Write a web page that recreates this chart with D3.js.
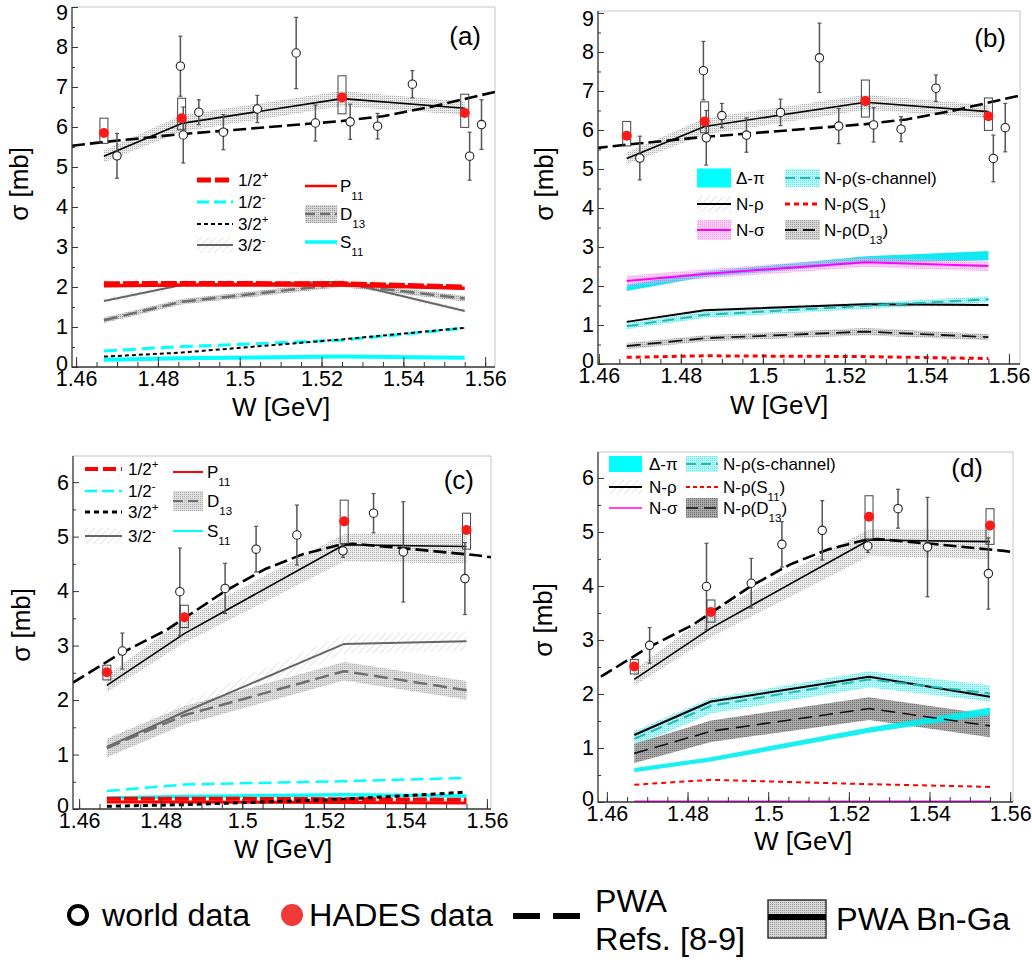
<!DOCTYPE html>
<html><head><meta charset="utf-8">
<script src="https://cdn.jsdelivr.net/npm/d3@7"></script>
<style>
body{margin:0;background:#fff}
svg{display:block}
text{font-family:"Liberation Sans",Arial,Helvetica,sans-serif;fill:#000}
</style>
</head><body>
<svg id="chart" width="1032" height="960"></svg>
<script>
// ---------------- DATA ----------------
const W_MODEL = [1.4668, 1.4858, 1.5250, 1.5550];
const X_TICKS = [1.46, 1.48, 1.50, 1.52, 1.54, 1.56];
const X_TICK_LABELS = ["1.46", "1.48", "1.5", "1.52", "1.54", "1.56"];
const Y_TICKS_AB = [0, 1, 2, 3, 4, 5, 6, 7, 8, 9];
const Y_TICKS_CD = [0, 1, 2, 3, 4, 5, 6];

// world data, panels (a),(b)
const worldW_ab = [1.4700, 1.4855, 1.4862, 1.4900, 1.4960, 1.5043, 1.5138, 1.5185, 1.5270, 1.5337, 1.5422, 1.5562, 1.5591];
const world_ab = [5.28, 7.52, 5.80, 6.37, 5.87, 6.45, 7.85, 6.10, 6.13, 6.02, 7.07, 5.27, 6.06];
const worldErr_ab = [0.56, 0.75, 0.70, 0.31, 0.44, 0.34, 0.89, 0.45, 0.44, 0.32, 0.34, 0.60, 0.62];
// HADES data, panels (a),(b)
const hades_ab = [5.85, 6.22, 6.74, 6.35];
const hadesSysLo_ab = [5.59, 5.93, 6.33, 5.99];
const hadesSysHi_ab = [6.22, 6.72, 7.28, 6.82];
// PWA Refs [8-9], panels (a),(b)
const pwaW_ab = [1.4590, 1.4655, 1.4855, 1.5050, 1.5250, 1.5350, 1.5466, 1.5625];
const pwa_ab = [5.53, 5.61, 5.82, 5.98, 6.15, 6.27, 6.50, 6.88];
// PWA Bn-Ga total, panels (a),(b)
const bnga_ab = [5.27, 6.09, 6.71, 6.47];
const bngaLo_ab = [5.12, 5.88, 6.52, 6.30];
const bngaHi_ab = [5.42, 6.30, 6.90, 6.64];

// panel (a) partial waves
const a_halfPlus = [2.08, 2.09, 2.08, 2.00];
const a_halfMinus = [0.40, 0.51, 0.67, 0.97];
const a_threeHalfPlus = [0.26, 0.36, 0.69, 0.98];
const a_threeHalfMinus = [1.65, 2.05, 2.13, 1.40];
const a_threeHalfMinusErr = [0.08, 0.08, 0.08, 0.08];
const a_P11 = [2.03, 2.05, 2.05, 1.97];
const a_D13 = [1.17, 1.63, 2.07, 1.71];
const a_D13Err = [0.07, 0.07, 0.07, 0.07];
const a_S11 = [0.18, 0.22, 0.26, 0.23];

// panel (b) channels
const b_deltaPi = [1.95, 2.30, 2.67, 2.78];
const b_deltaPiErr = [0.08, 0.07, 0.09, 0.12];
const b_Nsigma = [2.13, 2.31, 2.61, 2.51];
const b_NsigmaErr = [0.13, 0.12, 0.12, 0.13];
const b_Nrho = [1.08, 1.38, 1.53, 1.51];
const b_NrhoErr = [0.06, 0.06, 0.06, 0.06];
const b_NrhoS = [0.97, 1.26, 1.49, 1.66];
const b_NrhoSErr = [0.08, 0.08, 0.08, 0.08];
const b_NrhoS11 = [0.17, 0.21, 0.19, 0.14];
const b_NrhoD13 = [0.46, 0.66, 0.83, 0.69];
const b_NrhoD13Err = [0.08, 0.08, 0.09, 0.08];

// world data, panels (c),(d)
const worldW_cd = [1.4706, 1.4847, 1.4958, 1.5034, 1.5134, 1.5247, 1.5322, 1.5395, 1.5546];
const world_cd = [2.90, 3.99, 4.05, 4.77, 5.03, 4.74, 5.43, 4.72, 4.23];
const worldErr_cd = [0.33, 0.80, 0.46, 0.42, 0.55, 0.12, 0.36, 0.92, 0.66];
// HADES data, panels (c),(d)
const hades_cd = [2.51, 3.52, 5.28, 5.12];
const hadesSysLo_cd = [2.37, 3.33, 4.87, 4.77];
const hadesSysHi_cd = [2.64, 3.74, 5.67, 5.43];
// PWA Refs [8-9], panels (c),(d)
const pwaW_cd = [1.4585, 1.4700, 1.4813, 1.4958, 1.5055, 1.5150, 1.5235, 1.5270, 1.5405, 1.5585, 1.5610];
const pwa_cd = [2.32, 2.85, 3.28, 4.00, 4.40, 4.68, 4.84, 4.87, 4.78, 4.65, 4.62];
// PWA Bn-Ga total, panels (c),(d)
const bnga_cd = [2.27, 3.22, 4.85, 4.82];
const bngaLo_cd = [2.15, 3.05, 4.55, 4.50];
const bngaHi_cd = [2.45, 3.50, 5.05, 5.05];

// panel (c) partial waves
const c_halfPlus = [0.19, 0.19, 0.18, 0.17];
const c_halfMinus = [0.33, 0.45, 0.51, 0.57];
const c_threeHalfPlus = [0.05, 0.08, 0.18, 0.31];
const c_threeHalfMinus = [1.14, 1.78, 3.03, 3.08];
const c_threeHalfMinusErr = [0.18, 0.18, 0.18, 0.18];
const c_P11 = [0.13, 0.13, 0.12, 0.11];
const c_D13 = [1.12, 1.72, 2.53, 2.18];
const c_D13Err = [0.17, 0.17, 0.17, 0.17];
const c_S11 = [0.20, 0.23, 0.26, 0.24];

// panel (d) channels
const d_deltaPi = [0.59, 0.79, 1.33, 1.68];
const d_deltaPiErr = [0.04, 0.04, 0.05, 0.07];
const d_Nsigma = [0.01, 0.01, 0.01, 0.01];
const d_Nrho = [1.24, 1.86, 2.32, 1.95];
const d_NrhoErr = [0.10, 0.10, 0.10, 0.10];
const d_NrhoS = [1.17, 1.78, 2.27, 2.01];
const d_NrhoSErr = [0.14, 0.14, 0.15, 0.15];
const d_NrhoS11 = [0.32, 0.41, 0.33, 0.28];
const d_NrhoD13 = [0.90, 1.31, 1.73, 1.41];
const d_NrhoD13Err = [0.18, 0.20, 0.21, 0.21];

// ---------------- DRAWING ----------------
const svg = d3.select("#chart");
const defs = svg.append("defs");

function dotPattern(id, bg, dot, size) {
  const p = defs.append("pattern").attr("id", id).attr("width", size).attr("height", size)
    .attr("patternUnits", "userSpaceOnUse");
  p.append("rect").attr("width", size).attr("height", size).attr("fill", bg);
  p.append("rect").attr("width", 1).attr("height", 1).attr("fill", dot);
}
function hatchPattern(id, color, bg) {
  const p = defs.append("pattern").attr("id", id).attr("width", 5).attr("height", 5)
    .attr("patternUnits", "userSpaceOnUse").attr("patternTransform", "rotate(45)");
  if (bg) p.append("rect").attr("width", 5).attr("height", 5).attr("fill", bg);
  p.append("line").attr("x1", 0).attr("y1", 0).attr("x2", 0).attr("y2", 5)
    .attr("stroke", color).attr("stroke-width", 1.2);
}
dotPattern("bngaDots", "#ececec", "#b0b0b0", 2);
dotPattern("grayDots", "#d6d6d6", "#9a9a9a", 2);
dotPattern("darkDots", "#a8a8a8", "#707070", 2);
dotPattern("cyanDots", "#a6f6f6", "#40dede", 2);
dotPattern("pinkDots", "#f7b0ef", "#ee55e0", 2);
hatchPattern("hatch", "#d4d4d4", null);

function makePanel(id, box) {
  const x = d3.scaleLinear().domain(box.xdom).range([box.l, box.r]);
  const y = d3.scaleLinear().domain(box.ydom).range([box.b, box.t]);
  defs.append("clipPath").attr("id", "clip-" + id).append("rect")
    .attr("x", box.l).attr("y", box.t).attr("width", box.r - box.l).attr("height", box.b - box.t);
  const g = svg.append("g");
  g.append("path").attr("d", `M${box.l},${box.t}H${box.r}V${box.b}`)
    .attr("fill", "none").attr("stroke", "#c4c4c4").attr("stroke-width", 1);
  const plot = g.append("g").attr("clip-path", `url(#clip-${id})`);
  return { box, x, y, g, plot };
}

function bandLH(P, W, lo, hi, fill, op) {
  const pts = W.map((w, i) => [w, lo[i], hi[i]]);
  P.plot.append("path")
    .attr("d", d3.area().x(d => P.x(d[0])).y0(d => P.y(d[1])).y1(d => P.y(d[2]))(pts))
    .attr("fill", fill).attr("opacity", op == null ? 1 : op);
}
function band(P, W, v, hw, fill, op) {
  bandLH(P, W, v.map((d, i) => d - hw[i]), v.map((d, i) => d + hw[i]), fill, op);
}
function curve(P, W, v, stroke, width, dash) {
  P.plot.append("path")
    .attr("d", d3.line().x((d, i) => P.x(W[i])).y(d => P.y(d))(v))
    .attr("fill", "none").attr("stroke", stroke).attr("stroke-width", width)
    .attr("stroke-dasharray", dash || null).attr("stroke-linejoin", "round");
}

function dataPoints(P, wW, wV, wE, hV, hLo, hHi) {
  const g = P.g.append("g");
  wW.forEach((w, i) => {
    const cx = P.x(w);
    g.append("line").attr("x1", cx).attr("x2", cx).attr("y1", P.y(wV[i] - wE[i])).attr("y2", P.y(wV[i] + wE[i]))
      .attr("stroke", "#555").attr("stroke-width", 1.5);
    [wV[i] - wE[i], wV[i] + wE[i]].forEach(v => g.append("line").attr("x1", cx - 2).attr("x2", cx + 2)
      .attr("y1", P.y(v)).attr("y2", P.y(v)).attr("stroke", "#555").attr("stroke-width", 1.2));
  });
  wW.forEach((w, i) => {
    g.append("circle").attr("cx", P.x(w)).attr("cy", P.y(wV[i])).attr("r", 4.2)
      .attr("fill", "#fff").attr("stroke", "#222").attr("stroke-width", 1.1);
  });
  W_MODEL.forEach((w, i) => {
    const cx = P.x(w);
    g.append("rect").attr("x", cx - 4).attr("width", 8).attr("y", P.y(hHi[i]))
      .attr("height", P.y(hLo[i]) - P.y(hHi[i])).attr("fill", "none").attr("stroke", "#444").attr("stroke-width", 1);
    g.append("circle").attr("cx", cx).attr("cy", P.y(hV[i])).attr("r", 5).attr("fill", "#ff1a1a");
  });
}

function axes(P, yTicks) {
  const b = P.box;
  const font = 21.5;
  const gx = P.g.append("g").attr("transform", `translate(0,${b.b})`)
    .call(d3.axisBottom(P.x).tickValues(X_TICKS).tickFormat((d, i) => X_TICK_LABELS[i]).tickSize(-10).tickPadding(4));
  const minorX = d3.range(1.46, 1.5601, 0.005);
  const gx2 = P.g.append("g").attr("transform", `translate(0,${b.b})`)
    .call(d3.axisBottom(P.x).tickValues(minorX).tickFormat("").tickSize(-5));
  const gy = P.g.append("g").attr("transform", `translate(${b.l},0)`)
    .call(d3.axisLeft(P.y).tickValues(yTicks).tickFormat(d3.format("d")).tickSize(-6).tickPadding(4));
  const minorY = d3.range(0.5, yTicks[yTicks.length - 1], 1);
  const gy2 = P.g.append("g").attr("transform", `translate(${b.l},0)`)
    .call(d3.axisLeft(P.y).tickValues(minorY).tickFormat("").tickSize(-3));
  [gx, gx2, gy, gy2].forEach(a => {
    a.select(".domain").remove();
    a.selectAll("line").attr("stroke", "#333").attr("stroke-width", 1);
    a.attr("font-family", null).attr("font-size", null);
    a.selectAll("text").attr("font-size", font).attr("fill", "#000");
  });
  // the top label sits a little below its tick when it touches the frame top
  const top = yTicks[yTicks.length - 1];
  if (P.y(top) - b.t < 4) gy.selectAll(".tick").filter(d => d === top).select("text").attr("y", 6);
  // the zero label sits slightly above its tick, clear of the x labels
  gy.selectAll(".tick").filter(d => d === 0).select("text").attr("y", -3);
  P.g.append("path").attr("d", `M${b.l},${b.t}V${b.b}H${b.r}`).attr("fill", "none")
    .attr("stroke", "#333").attr("stroke-width", 1.3);
}

function titles(P, xt, yt, label) {
  P.g.append("text").attr("x", xt[0]).attr("y", xt[1]).attr("text-anchor", "middle")
    .attr("font-size", 26).text("W [GeV]");
  P.g.append("text").attr("transform", `translate(${yt[0]},${yt[1]}) rotate(-90)`).attr("text-anchor", "end")
    .attr("font-size", 26).text("σ [mb]");
  P.g.append("text").attr("x", label[0]).attr("y", label[1]).attr("text-anchor", "end")
    .attr("font-size", 26).text(label[2]);
}

function rich(sel, parts, size) {
  let cur = 0;
  parts.forEach(p => {
    const t = typeof p === "string" ? [p, 0] : p;
    const off = t[1] === "sub" ? size * 0.45 : t[1] === "sup" ? -size * 0.42 : 0;
    const ts = sel.append("tspan").text(t[0]).attr("dy", off - cur);
    if (t[1]) ts.attr("font-size", size * 0.68);
    cur = off;
  });
}

function legendEntry(g, x1, x2, tx, y, spec, parts, size) {
  if (spec.band) g.append("rect").attr("x", x1).attr("width", x2 - x1).attr("y", y - (spec.bh || 16) / 2)
    .attr("height", spec.bh || 16).attr("fill", spec.band).attr("opacity", spec.bop == null ? 1 : spec.bop);
  if (spec.box) g.append("rect").attr("x", x1).attr("width", x2 - x1).attr("y", y - spec.bh / 2)
    .attr("height", spec.bh).attr("fill", spec.box);
  if (spec.stroke) g.append("line").attr("x1", x1).attr("x2", x2).attr("y1", y).attr("y2", y)
    .attr("stroke", spec.stroke).attr("stroke-width", spec.w).attr("stroke-dasharray", spec.dash || null);
  const t = g.append("text").attr("x", tx).attr("y", y + size * 0.36).attr("font-size", size);
  rich(t, parts, size);
}

// ---------- Panel (a) ----------
const PA = makePanel("a", { l: 72, r: 495, t: 7, b: 367, xdom: [1.459, 1.5624], ydom: [0, 9] });
bandLH(PA, W_MODEL, bngaLo_ab, bngaHi_ab, "url(#bngaDots)");
band(PA, W_MODEL, a_threeHalfMinus, a_threeHalfMinusErr, "url(#hatch)");
band(PA, W_MODEL, a_D13, a_D13Err, "url(#grayDots)");
curve(PA, W_MODEL, a_S11, "#00ffff", 4);
curve(PA, W_MODEL, a_halfMinus, "#00ffff", 3, "13,6");
curve(PA, W_MODEL, a_threeHalfPlus, "#000", 2, "4,3");
curve(PA, W_MODEL, a_threeHalfMinus, "#666", 2);
curve(PA, W_MODEL, a_D13, "#6e6e6e", 2.5, "14,6");
curve(PA, W_MODEL, a_P11, "#ff0000", 3.5);
curve(PA, W_MODEL, a_halfPlus, "#ff0000", 5, "16,3");
curve(PA, W_MODEL, bnga_ab, "#000", 1.6);
curve(PA, pwaW_ab, pwa_ab, "#000", 2.6, "13,5");
dataPoints(PA, worldW_ab, world_ab, worldErr_ab, hades_ab, hadesSysLo_ab, hadesSysHi_ab);
axes(PA, Y_TICKS_AB);
titles(PA, [281, 416], [28, 147], [481, 45, "(a)"]);
{
  const g = PA.g.append("g"), s = 17;
  legendEntry(g, 197, 233, 238, 180, { stroke: "#ff0000", w: 5, dash: "14,4" }, ["1/2", ["+", "sup"]], s);
  legendEntry(g, 197, 233, 238, 202, { stroke: "#00ffff", w: 3, dash: "12,5" }, ["1/2", ["-", "sup"]], s);
  legendEntry(g, 197, 233, 238, 224, { stroke: "#000", w: 2, dash: "4,3" }, ["3/2", ["+", "sup"]], s);
  legendEntry(g, 197, 233, 238, 245, { band: "url(#hatch)", bh: 16, stroke: "#666", w: 2 }, ["3/2", ["-", "sup"]], s);
  legendEntry(g, 305, 337, 340, 186, { stroke: "#ff0000", w: 2.5 }, ["P", ["11", "sub"]], s);
  legendEntry(g, 305, 337, 340, 214, { band: "url(#grayDots)", bh: 18, stroke: "#6e6e6e", w: 2.5, dash: "10,5" }, ["D", ["13", "sub"]], s);
  legendEntry(g, 305, 337, 340, 242, { stroke: "#00ffff", w: 3.5 }, ["S", ["11", "sub"]], s);
}

// ---------- Panel (b) ----------
const PB = makePanel("b", { l: 598, r: 1020, t: 11, b: 364, xdom: [1.4598, 1.5627], ydom: [0, 9.05] });
bandLH(PB, W_MODEL, bngaLo_ab, bngaHi_ab, "url(#bngaDots)");
band(PB, W_MODEL, b_deltaPi, b_deltaPiErr, "#12e8f2");
band(PB, W_MODEL, b_Nsigma, b_NsigmaErr, "url(#pinkDots)", 0.55);
band(PB, W_MODEL, b_NrhoS, b_NrhoSErr, "url(#cyanDots)", 0.8);
band(PB, W_MODEL, b_Nrho, b_NrhoErr, "url(#hatch)");
band(PB, W_MODEL, b_NrhoD13, b_NrhoD13Err, "url(#grayDots)");
curve(PB, W_MODEL, b_Nsigma, "#ff00ff", 2);
curve(PB, W_MODEL, b_Nrho, "#000", 2);
curve(PB, W_MODEL, b_NrhoS, "#26b8b8", 2, "12,6");
curve(PB, W_MODEL, b_NrhoD13, "#111", 1.8, "14,7");
curve(PB, W_MODEL, b_NrhoS11, "#ff0000", 3, "5,4");
curve(PB, W_MODEL, bnga_ab, "#000", 1.6);
curve(PB, pwaW_ab, pwa_ab, "#000", 2.6, "13,5");
dataPoints(PB, worldW_ab, world_ab, worldErr_ab, hades_ab, hadesSysLo_ab, hadesSysHi_ab);
axes(PB, Y_TICKS_AB);
titles(PB, [779, 414], [553, 147], [1006, 47, "(b)"]);
{
  const g = PB.g.append("g"), s = 17;
  legendEntry(g, 697, 731, 736, 178, { box: "#00ffff", bh: 19 }, ["Δ-π"], s);
  legendEntry(g, 697, 731, 736, 204, { band: "url(#hatch)", bh: 16, stroke: "#000", w: 2 }, ["N-ρ"], s);
  legendEntry(g, 697, 731, 736, 230, { band: "url(#pinkDots)", bh: 20, bop: 0.6, stroke: "#ff00ff", w: 2 }, ["N-σ"], s);
  legendEntry(g, 785, 820, 824, 178, { band: "url(#cyanDots)", bh: 18, bop: 0.8, stroke: "#26b8b8", w: 2, dash: "10,5" }, ["N-ρ(s-channel)"], s);
  legendEntry(g, 785, 820, 824, 204, { stroke: "#ff0000", w: 3, dash: "5,4" }, ["N-ρ(S", ["11", "sub"], ")"], s);
  legendEntry(g, 785, 820, 824, 230, { band: "url(#grayDots)", bh: 20, stroke: "#111", w: 1.8, dash: "12,6" }, ["N-ρ(D", ["13", "sub"], ")"], s);
}

// ---------- Panel (c) ----------
const PC = makePanel("c", { l: 73, r: 491, t: 456, b: 809, xdom: [1.4585, 1.561], ydom: [0, 6.48] });
bandLH(PC, W_MODEL, bngaLo_cd, bngaHi_cd, "url(#bngaDots)");
band(PC, W_MODEL, c_threeHalfMinus, c_threeHalfMinusErr, "url(#hatch)");
band(PC, W_MODEL, c_D13, c_D13Err, "url(#grayDots)", 0.8);
curve(PC, W_MODEL, c_S11, "#00ffff", 3.5);
curve(PC, W_MODEL, c_halfMinus, "#00ffff", 2.5, "13,6");
curve(PC, W_MODEL, c_P11, "#ff0000", 3);
curve(PC, W_MODEL, c_halfPlus, "#ff0000", 4, "14,3");
curve(PC, W_MODEL, c_threeHalfPlus, "#000", 3, "5,4");
curve(PC, W_MODEL, c_threeHalfMinus, "#666", 2);
curve(PC, W_MODEL, c_D13, "#6e6e6e", 2.5, "14,6");
curve(PC, W_MODEL, bnga_cd, "#000", 1.6);
curve(PC, pwaW_cd, pwa_cd, "#000", 2.6, "13,5");
dataPoints(PC, worldW_cd, world_cd, worldErr_cd, hades_cd, hadesSysLo_cd, hadesSysHi_cd);
axes(PC, Y_TICKS_CD);
titles(PC, [283, 858], [30, 588], [474, 489, "(c)"]);
{
  const g = PC.g.append("g"), s = 17;
  legendEntry(g, 85, 122, 128, 469, { stroke: "#ff0000", w: 4, dash: "13,5" }, ["1/2", ["+", "sup"]], s);
  legendEntry(g, 85, 122, 128, 491, { stroke: "#00ffff", w: 2.5, dash: "12,5" }, ["1/2", ["-", "sup"]], s);
  legendEntry(g, 85, 122, 128, 512, { stroke: "#000", w: 3, dash: "5,4" }, ["3/2", ["+", "sup"]], s);
  legendEntry(g, 85, 122, 128, 536, { band: "url(#hatch)", bh: 16, stroke: "#666", w: 2 }, ["3/2", ["-", "sup"]], s);
  legendEntry(g, 173, 203, 207, 472, { stroke: "#ff0000", w: 2 }, ["P", ["11", "sub"]], s);
  legendEntry(g, 173, 203, 207, 501, { band: "url(#grayDots)", bh: 20, bop: 0.8, stroke: "#6e6e6e", w: 2, dash: "10,5" }, ["D", ["13", "sub"]], s);
  legendEntry(g, 173, 203, 207, 531, { stroke: "#00ffff", w: 2 }, ["S", ["11", "sub"]], s);
}

// ---------- Panel (d) ----------
const PD = makePanel("d", { l: 598, r: 1013, t: 452, b: 802, xdom: [1.4578, 1.5607], ydom: [0, 6.48] });
bandLH(PD, W_MODEL, bngaLo_cd, bngaHi_cd, "url(#bngaDots)");
band(PD, W_MODEL, d_Nrho, d_NrhoErr, "url(#hatch)");
band(PD, W_MODEL, d_NrhoS, d_NrhoSErr, "url(#cyanDots)", 0.8);
band(PD, W_MODEL, d_NrhoD13, d_NrhoD13Err, "url(#darkDots)");
band(PD, W_MODEL, d_deltaPi, d_deltaPiErr, "#00f0f0", 0.9);
curve(PD, W_MODEL, d_NrhoS11, "#ff0000", 2, "5,4");
curve(PD, W_MODEL, d_Nsigma, "#ff00ff", 2);
curve(PD, W_MODEL, d_Nrho, "#000", 2);
curve(PD, W_MODEL, d_NrhoS, "#26b8b8", 2, "12,6");
curve(PD, W_MODEL, d_NrhoD13, "#111", 1.6, "14,7");
curve(PD, W_MODEL, bnga_cd, "#000", 1.6);
curve(PD, pwaW_cd, pwa_cd, "#000", 2.6, "13,5");
dataPoints(PD, worldW_cd, world_cd, worldErr_cd, hades_cd, hadesSysLo_cd, hadesSysHi_cd);
axes(PD, Y_TICKS_CD);
titles(PD, [803, 850], [552, 583], [983, 477, "(d)"]);
{
  const g = PD.g.append("g"), s = 17;
  legendEntry(g, 609, 642, 649, 464, { box: "#00ffff", bh: 16 }, ["Δ-π"], s);
  legendEntry(g, 609, 642, 649, 487, { band: "url(#hatch)", bh: 14, stroke: "#000", w: 2 }, ["N-ρ"], s);
  legendEntry(g, 609, 642, 649, 508, { stroke: "#ff00ff", w: 1.5 }, ["N-σ"], s);
  legendEntry(g, 686, 718, 723, 464, { band: "url(#cyanDots)", bh: 16, bop: 0.8, stroke: "#26b8b8", w: 2, dash: "10,5" }, ["N-ρ(s-channel)"], s);
  legendEntry(g, 686, 718, 723, 487, { stroke: "#ff0000", w: 2, dash: "4,3" }, ["N-ρ(S", ["11", "sub"], ")"], s);
  legendEntry(g, 686, 718, 723, 508, { band: "url(#darkDots)", bh: 20, stroke: "#111", w: 1.6, dash: "12,6" }, ["N-ρ(D", ["13", "sub"], ")"], s);
}

// ---------- Bottom legend ----------
{
  const g = svg.append("g");
  const txt = (x, y, s, len) => g.append("text").attr("x", x).attr("y", y).attr("font-size", 31)
    .attr("textLength", len).attr("lengthAdjust", "spacingAndGlyphs").text(s);
  g.append("circle").attr("cx", 78).attr("cy", 915).attr("r", 9).attr("fill", "#fff").attr("stroke", "#000").attr("stroke-width", 4);
  txt(102, 926, "world data", 148);
  g.append("circle").attr("cx", 292).attr("cy", 915).attr("r", 11).attr("fill", "#f03a3a");
  txt(309, 926, "HADES data", 184);
  g.append("line").attr("x1", 513).attr("x2", 580).attr("y1", 916).attr("y2", 916)
    .attr("stroke", "#000").attr("stroke-width", 6).attr("stroke-dasharray", "27,13");
  txt(595, 912, "PWA", 72);
  txt(595, 950, "Refs. [8-9]", 150);
  g.append("rect").attr("x", 768).attr("y", 900).attr("width", 58).attr("height", 38)
    .attr("fill", "url(#grayDots)").attr("stroke", "#333").attr("stroke-width", 1.5);
  g.append("line").attr("x1", 768).attr("x2", 826).attr("y1", 917).attr("y2", 917).attr("stroke", "#000").attr("stroke-width", 6);
  txt(836, 930, "PWA Bn-Ga", 174);
}
</script>
</body></html>
